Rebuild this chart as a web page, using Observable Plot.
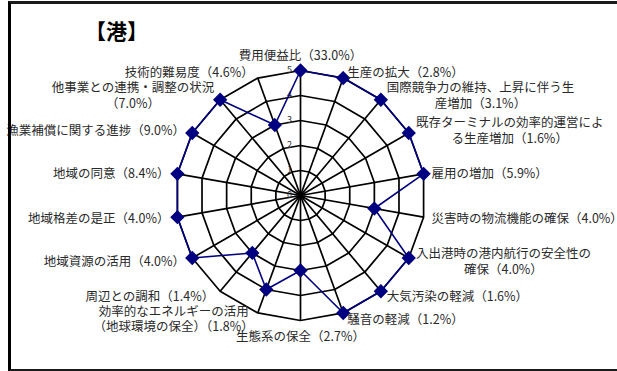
<!DOCTYPE html>
<html>
<head>
<meta charset="utf-8">
<script src="https://cdn.jsdelivr.net/npm/d3@7"></script>
<script src="https://cdn.jsdelivr.net/npm/@observablehq/plot@0.6"></script>
<style>
  html, body { margin: 0; padding: 0; background: #fff; }
  #wrap { position: relative; width: 617px; height: 371px; overflow: hidden; }
  #frame { position: absolute; left: 8px; top: 1px; width: 700px; height: 365px;
           border-left: 3px solid #000; border-top: 3px solid #1a1a1a; border-bottom: 3px solid #1a1a1a;
           pointer-events: none; }
</style>
</head>
<body>
<div id="wrap"><div id="frame"></div></div>
<script>
const titleText = "【港】";
const categories = [
  "費用便益比", "生産の拡大", "国際競争力の維持、上昇に伴う生\n産増加",
  "既存ターミナルの効率的運営によ\nる生産増加", "雇用の増加", "災害時の物流機能の確保",
  "入出港時の港内航行の安全性の\n確保", "大気汚染の軽減", "騒音の軽減", "生態系の保全",
  "効率的なエネルギーの活用\n（地球環境の保全）", "周辺との調和", "地域資源の活用",
  "地域格差の是正", "地域の同意", "漁業補償に関する進捗", "他事業との連携・調整の状況\n",
  "技術的難易度"
];
const weights = ["33.0%","2.8%","3.1%","1.6%","5.9%","4.0%","4.0%","1.6%","1.2%","2.7%",
                 "1.8%","1.4%","4.0%","4.0%","8.4%","9.0%","7.0%","4.6%"];
const scores = [5,5,5,5,5,3,5,5,5,3,4,3,5,5,5,5,5,3];
const ringLevels = [1,2,3,4,5];
const tickLabels = ["0","1","2","3","4","5"];
const maxScore = 5;

const FONT = '"Noto Sans CJK JP", "Noto Sans CJK SC", sans-serif';
const LABEL_SIZE = 12.5;
const UNIT = 25; // px per score unit
const n = categories.length;
const ang = i => i * 2 * Math.PI / n;

// measure text widths
const ctx = document.createElement("canvas").getContext("2d");
ctx.font = `${LABEL_SIZE}px ${FONT}`;
const measure = s => Math.max(...s.split("\n").map(l => ctx.measureText(l).width));

// rings
const ringRows = [];
for (const lv of ringLevels) for (let i = 0; i <= n; i++) {
  const a = ang(i % n);
  ringRows.push({level: lv, x: lv * Math.sin(a), y: lv * Math.cos(a)});
}
// spokes
const spokes = categories.map((c, i) => ({x: maxScore * Math.sin(ang(i)), y: maxScore * Math.cos(ang(i))}));
// series
const series = scores.map((s, i) => ({x: s * Math.sin(ang(i)), y: s * Math.cos(ang(i))}));
const seriesClosed = [...series, series[0]];
// labels
const labels = categories.map((c, i) => {
  const text = c + "（" + weights[i] + "）";
  const a = ang(i), s = Math.sin(a), co = Math.cos(a);
  const w = measure(text);
  const lines = text.split("\n").length;
  let px = maxScore * UNIT * s, py = maxScore * UNIT * co; // px right, py up
  if (Math.abs(s) < 0.1) {
    py += (co > 0 ? 1 : -1) * (8 + lines * LABEL_SIZE * 0.6);
  } else {
    const side = s > 0 ? 1 : -1;
    px += side * (2 + 6 * Math.abs(s) + w / 2);
    py += 6 * co;
  }
  return {text, x: px / UNIT, y: py / UNIT};
});
const ticks = tickLabels.map((t, i) => ({t, y: i}));

const chart = Plot.plot({
  width: 617, height: 371,
  marginTop: 0, marginRight: 0, marginBottom: 0, marginLeft: 0,
  x: {domain: [-300 / UNIT, 317 / UNIT], range: [0, 617], axis: null},
  y: {domain: [-176 / UNIT, 195 / UNIT], range: [371, 0], axis: null},
  style: {fontFamily: FONT, background: "transparent", overflow: "visible"},
  marks: [
    Plot.line(ringRows, {x: "x", y: "y", z: "level", stroke: "#000", strokeWidth: 1.7}),
    Plot.link(spokes, {x1: () => 0, y1: () => 0, x2: "x", y2: "y", stroke: "#000", strokeWidth: 1.7}),
    Plot.text(ticks, {x: () => 0, y: "y", text: "t", dx: -11, fontSize: 9, fill: "#333", textAnchor: "middle"}),
    Plot.line(seriesClosed, {x: "x", y: "y", stroke: "#000080", strokeWidth: 1.6}),
    Plot.dot(series, {x: "x", y: "y", symbol: "diamond2", r: 5.5, fill: "#000080", stroke: "#000080"}),
    Plot.text(labels, {x: "x", y: "y", text: "text", fontSize: LABEL_SIZE, lineHeight: 1.25,
                       fill: "#2a2a2a", textAnchor: "middle", lineAnchor: "middle"}),
    Plot.text([titleText], {frameAnchor: "top-left", dx: 116, dy: 32, text: d => d,
                            fontSize: 21, fontWeight: "bold", fill: "#000", textAnchor: "middle", lineAnchor: "middle"})
  ]
});
document.getElementById("wrap").prepend(chart);
</script>
</body>
</html>
